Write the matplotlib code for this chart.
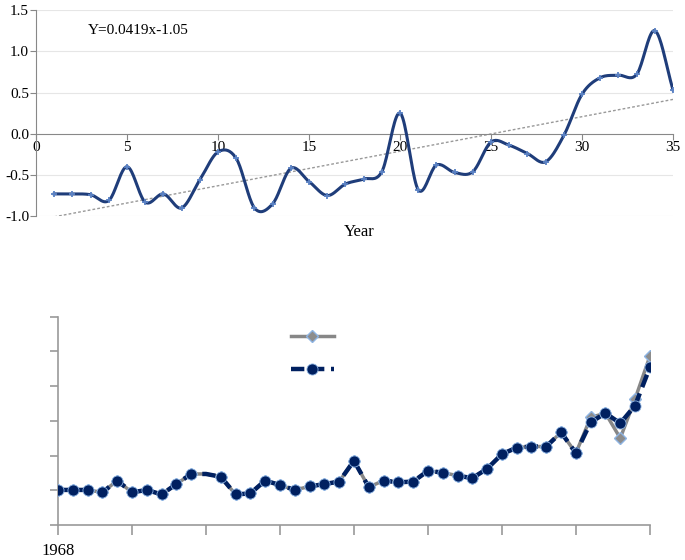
import numpy as np
import matplotlib
matplotlib.use('Agg')
import matplotlib.pyplot as plt

plt.rcParams['font.family'] = ['Liberation Serif', 'DejaVu Serif']

# top chart: anomaly by year index
years_idx = list(range(1, 36))
anomaly = [-0.73, -0.73, -0.74, -0.81, -0.40, -0.83, -0.73, -0.90, -0.56, -0.22,
           -0.30, -0.90, -0.85, -0.42, -0.58, -0.75, -0.61, -0.55, -0.46, 0.25,
           -0.68, -0.38, -0.47, -0.46, -0.10, -0.14, -0.24, -0.34, -0.02, 0.48,
           0.68, 0.71, 0.72, 1.25, 0.53]
trend_slope = 0.0419
trend_icept = -1.05
top_yticks = [-1.0, -0.5, 0.0, 0.5, 1.0, 1.5]
top_xticks = [0, 5, 10, 15, 20, 25, 30, 35]

# bottom chart: two series 1968-2008 (no axis units shown)
years = list(range(1968, 2009))
series_a = [1.01, 1.01, 1.01, 0.94, 1.28, 0.94, 1.01, 0.88, 1.18, 1.47,
            1.47, 1.39, 0.88, 0.91, 1.28, 1.15, 1.01, 1.11, 1.18, 1.25,
            1.85, 1.09, 1.28, 1.23, 1.25, 1.56, 1.51, 1.42, 1.35, 1.62,
            2.04, 2.23, 2.26, 2.26, 2.67, 2.07, 3.10, 3.22, 2.50, 3.63, 4.86]
series_b = [1.01, 1.01, 1.01, 0.94, 1.28, 0.94, 1.01, 0.88, 1.18, 1.47,
            1.47, 1.39, 0.88, 0.91, 1.28, 1.15, 1.01, 1.11, 1.18, 1.25,
            1.85, 1.09, 1.28, 1.23, 1.25, 1.56, 1.51, 1.42, 1.35, 1.62,
            2.04, 2.23, 2.26, 2.26, 2.67, 2.07, 2.96, 3.22, 2.93, 3.44, 4.54]
bottom_xticks = [1968, 1973, 1978, 1983, 1988, 1993, 1998, 2003, 2008]
bottom_xlabels = ['1968', '', '', '', '', '', '', '', '']


def smooth(x, y, n=20):
    # catmull-rom curve through the points, like a smoothed excel line
    x = np.asarray(x, float)
    y = np.asarray(y, float)
    px = np.concatenate([[2 * x[0] - x[1]], x, [2 * x[-1] - x[-2]]])
    py = np.concatenate([[2 * y[0] - y[1]], y, [2 * y[-1] - y[-2]]])
    xs, ys = [], []
    t = np.linspace(0, 1, n, endpoint=False)
    for i in range(1, len(px) - 2):
        for p, out in ((px, xs), (py, ys)):
            p0, p1, p2, p3 = p[i - 1], p[i], p[i + 1], p[i + 2]
            out.extend(0.5 * ((2 * p1) + (-p0 + p2) * t
                              + (2 * p0 - 5 * p1 + 4 * p2 - p3) * t ** 2
                              + (-p0 + 3 * p1 - 3 * p2 + p3) * t ** 3))
    xs.append(x[-1])
    ys.append(y[-1])
    return np.array(xs), np.array(ys)


def main():
    fig = plt.figure(figsize=(6.85, 5.6), dpi=100)

    # ---- top chart
    ax = fig.add_axes([0.0526, 0.614, 0.93, 0.368])
    ax.set_xlim(0, 35)
    ax.set_ylim(-1.0, 1.5)
    for v in top_yticks:
        if v != 0:
            ax.axhline(v, color='#e6e6e6', lw=0.8, zorder=0)
    ax.spines['top'].set_visible(False)
    ax.spines['right'].set_visible(False)
    ax.spines['bottom'].set_position(('data', 0))
    ax.spines['left'].set_color('#888888')
    ax.spines['bottom'].set_color('#888888')
    ax.set_xticks(top_xticks)
    ax.set_yticks(top_yticks)
    ax.set_yticklabels(['%.1f' % v for v in top_yticks])
    ax.tick_params(axis='x', direction='out', length=4, color='#888888', labelsize=11, pad=1)
    ax.tick_params(axis='y', direction='out', length=4, color='#888888', labelsize=11, pad=1)

    sx, sy = smooth(years_idx, anomaly)
    ax.plot(sx, sy, color='#1f3d7a', lw=2.2, zorder=3)
    ax.plot(years_idx, anomaly, ls='none', marker='+', ms=5, mew=1.3,
            color='#5b82c4', zorder=4)
    tx = np.array([years_idx[0], years_idx[-1]])
    ax.plot(tx, trend_slope * tx + trend_icept, color='#999999', lw=1,
            ls=(0, (2, 1.5)), zorder=2)
    ax.text(2.85, 1.25, 'Y=0.0419x-1.05', fontsize=11, va='center', ha='left')
    fig.text(0.525, 0.585, 'Year', fontsize=12, ha='center', va='center')

    # ---- bottom chart
    bx = fig.add_axes([0.0847, 0.0625, 0.864, 0.372])
    bx.set_xlim(1968, 2008)
    bx.set_ylim(0, 6)
    bx.spines['top'].set_visible(False)
    bx.spines['right'].set_visible(False)
    bx.spines['left'].set_color('#999999')
    bx.spines['bottom'].set_color('#999999')
    bx.spines['left'].set_linewidth(1.2)
    bx.spines['bottom'].set_linewidth(1.2)
    bx.set_xticks(bottom_xticks)
    bx.set_xticklabels(bottom_xlabels)
    bx.set_yticks(range(0, 7))
    bx.set_yticklabels([])
    bx.tick_params(axis='x', direction='out', length=7, width=1.2, color='#999999',
                   labelsize=12, pad=6)
    bx.tick_params(axis='y', direction='out', length=6, width=1.2, color='#999999')

    skip = [i for i in range(len(years)) if years[i] != 1978]
    la, = bx.plot(years, series_a, color='#878787', lw=2.5, marker='D', ms=6,
                  mfc='#8c8c8c', mec='#8eb4e3', mew=1, markevery=skip, zorder=3)
    lb, = bx.plot(years, series_b, color='#002060', lw=3.2, ls=(0, (3, 1.5)),
                  marker='o', ms=8, mfc='#002060', mec='#8eb4e3', mew=0.6,
                  markevery=skip, zorder=4)
    bx.legend([la, lb], [' ', ' '], loc='upper left', bbox_to_anchor=(0.37, 1.0),
              frameon=False, handlelength=2.8, labelspacing=1.3, fontsize=11)

    fig.savefig('out.png', dpi=100)


if __name__ == '__main__':
    main()
